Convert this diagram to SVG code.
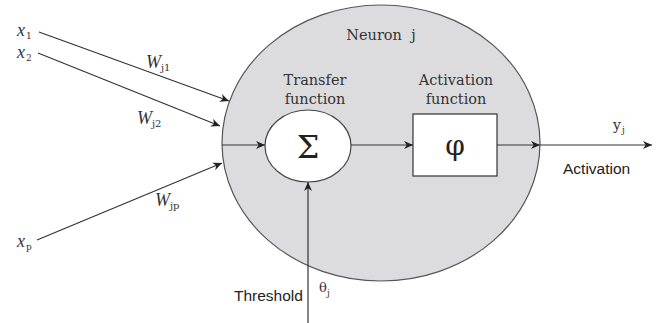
<svg xmlns="http://www.w3.org/2000/svg" width="659" height="323" viewBox="0 0 659 323">
<defs>
<marker id="ah" viewBox="0 0 10 10" refX="10" refY="5" markerWidth="10" markerHeight="9" markerUnits="userSpaceOnUse" orient="auto">
<path d="M0,0.5 L10,5 L0,9.5 L3,5 Z" fill="#222"/>
</marker>
<style>
.ln{stroke:#333;stroke-width:1.2;fill:none;marker-end:url(#ah)}
.serif{font-family:"DejaVu Serif","Liberation Serif",serif;fill:#333}
.math{font-family:"Liberation Serif","DejaVu Serif",serif;font-style:italic;fill:#333}
.sans{font-family:"Liberation Sans",Arial,sans-serif;fill:#222}
</style>
</defs>
<rect width="659" height="323" fill="#fff"/>
<g id="neuron">
<ellipse cx="381" cy="143" rx="159" ry="138" fill="#dcdcdf" stroke="#555" stroke-width="1.2"/>
<text class="serif" x="381" y="40" font-size="14.5" text-anchor="middle" xml:space="preserve">Neuron  j</text>
</g>
<g id="transfer">
<ellipse cx="308" cy="146" rx="43" ry="36" fill="#fff" stroke="#444" stroke-width="1.2"/>
<text class="serif" x="315" y="85" font-size="14.5" text-anchor="middle">Transfer</text>
<text class="serif" x="315" y="104" font-size="14.5" text-anchor="middle">function</text>
<text x="308" y="158" font-family="DejaVu Serif,serif" font-size="32" text-anchor="middle" fill="#222">Σ</text>
</g>
<g id="activation">
<rect x="413" y="114" width="84" height="62" fill="#fff" stroke="#333" stroke-width="1.2"/>
<text class="serif" x="456" y="85" font-size="14.5" text-anchor="middle">Activation</text>
<text class="serif" x="456" y="104" font-size="14.5" text-anchor="middle">function</text>
<text x="455" y="155" font-family="DejaVu Serif,serif" font-size="28" text-anchor="middle" fill="#222">φ</text>
</g>
<g id="inputs">
<text class="math" x="17" y="36" font-size="18">x</text><text class="serif" x="26" y="39" font-size="9">1</text>
<text class="math" x="17" y="58" font-size="18">x</text><text class="serif" x="26" y="61" font-size="9">2</text>
<text class="math" x="17" y="247" font-size="18">x</text><text class="serif" x="26" y="250" font-size="9">p</text>
<text class="math" x="146" y="68" font-size="18">W</text><text class="serif" x="161" y="71" font-size="10">j1</text>
<text class="math" x="137" y="124" font-size="18">W</text><text class="serif" x="152" y="127" font-size="10">j2</text>
<text class="math" x="155" y="206" font-size="18">W</text><text class="serif" x="170" y="209" font-size="10">jp</text>
</g>
<g id="labels">
<text class="serif" x="613" y="130" font-size="14">y</text><text class="serif" x="622" y="133" font-size="9">j</text>
<text class="sans" x="563" y="174" font-size="15.5">Activation</text>
<text class="sans" x="234" y="301" font-size="15.5">Threshold</text>
<text class="serif" x="319" y="292" font-size="13">θ</text><text class="serif" x="327" y="296" font-size="9">j</text>
</g>
<g id="connectors">
<line class="ln" x1="39" y1="32" x2="229" y2="101"/>
<line class="ln" x1="38" y1="53" x2="220" y2="126"/>
<line class="ln" x1="37" y1="240" x2="222" y2="163"/>
<line class="ln" x1="222" y1="145" x2="265" y2="145"/>
<line class="ln" x1="351" y1="145" x2="413" y2="145"/>
<line class="ln" x1="497" y1="145" x2="540" y2="145"/>
<line class="ln" x1="540" y1="145" x2="652" y2="145"/>
<line class="ln" x1="308" y1="323" x2="308" y2="182"/>
</g>
</svg>
